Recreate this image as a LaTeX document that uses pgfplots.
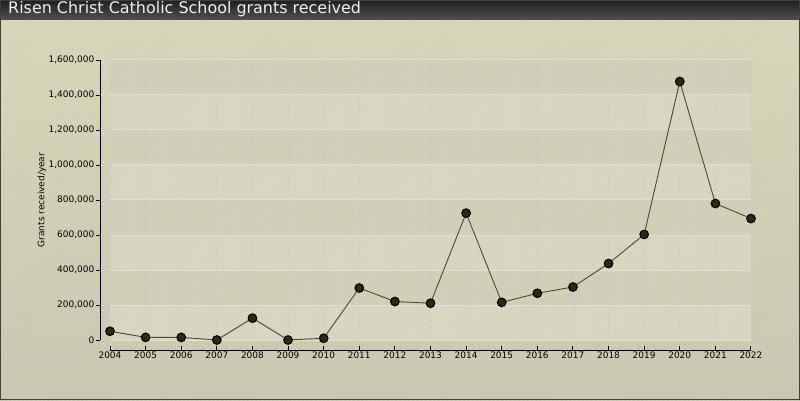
\documentclass[border=0pt]{standalone}
\usepackage{fontspec}
\setmainfont{DejaVu Sans}
\usepackage{pgfplots}
\pgfplotsset{compat=1.18}
\usetikzlibrary{patterns.meta}

\definecolor{bgtop}{HTML}{D4D4B4}
\definecolor{bgbot}{HTML}{C6C6AE}
\definecolor{banddark}{HTML}{D2D2BC}
\definecolor{bandlight}{HTML}{D9D9C4}
\definecolor{gridh}{HTML}{E0E0D2}
\definecolor{gridv}{HTML}{C9C9C0}
\definecolor{hatch}{HTML}{C4C49C}
\definecolor{linecol}{HTML}{4A4932}
\definecolor{markfill}{HTML}{2E2A12}

\begin{document}
\begin{tikzpicture}[x=1bp,y=1bp]
% page background and title bar
\shade[top color=bgtop, bottom color=bgbot] (0,0) rectangle (800,380);
\fill[pattern={Lines[angle=45,distance=3bp,line width=0.8bp]}, pattern color=white, opacity=0.18] (0,0) rectangle (800,380);
\shade[top color=black!88, bottom color=black!68] (0,380) rectangle (800,400);
\node[anchor=west, text=white!94!black, font=\fontsize{16}{16}\selectfont, inner sep=0pt] at (8,390.5) {Risen Christ Catholic School grants received};
\node[rotate=90, font=\fontsize{9}{9}\selectfont, text=black] at (42,200) {Grants received/year};

\begin{axis}[
  at={(110bp,60bp)}, anchor=south west,
  width=641bp, height=280bp, scale only axis,
  xmin=2004, xmax=2022, ymin=0, ymax=1600000,
  axis lines=left,
  axis x line shift=10bp,
  axis y line shift=10bp,
  axis line style={-, black, line width=0.9bp},
  axis background/.style={fill=banddark},
  xtick={2004,...,2022},
  ytick={0,200000,400000,600000,800000,1000000,1200000,1400000,1600000},
  scaled y ticks=false,
  xticklabel style={/pgf/number format/1000 sep={}, font=\fontsize{9}{9}\selectfont, inner sep=1.5bp},
  yticklabel style={/pgf/number format/fixed, /pgf/number format/1000 sep={,}, font=\fontsize{9}{9}\selectfont, inner sep=1.5bp},
  /pgf/number format/assume math mode=true,
  major tick length=4bp,
  xtick align=inside,
  ytick align=outside,
  tick style={black, line width=0.9bp},
  clip=false,
]
% alternating bands and grid
\fill[bandlight] (axis cs:2004,0) rectangle (axis cs:2022,200000);
\fill[bandlight] (axis cs:2004,400000) rectangle (axis cs:2022,600000);
\fill[bandlight] (axis cs:2004,800000) rectangle (axis cs:2022,1000000);
\fill[bandlight] (axis cs:2004,1200000) rectangle (axis cs:2022,1400000);
\fill[pattern={Lines[angle=45,distance=3bp,line width=0.8bp]}, pattern color=hatch, opacity=0.25] (axis cs:2004,0) rectangle (axis cs:2022,1600000);
\pgfplotsinvokeforeach{2004,...,2022}{
  \draw[gridv, dashed, line width=0.8bp] (axis cs:#1,0) -- (axis cs:#1,1600000);
}
\pgfplotsinvokeforeach{0,200000,400000,600000,800000,1000000,1200000,1400000,1600000}{
  \draw[gridh, line width=1bp] (axis cs:2004,#1) -- (axis cs:2022,#1);
}
\addplot[linecol, line width=0.9bp, mark=*, mark size=4.3bp,
  mark options={fill=markfill, draw=black, line width=1.1bp}]
coordinates {
(2004,50000) (2005,15000) (2006,15000) (2007,0) (2008,125000)
(2009,0) (2010,10000) (2011,297000) (2012,220000) (2013,210000)
(2014,725000) (2015,215000) (2016,267000) (2017,303000) (2018,437000)
(2019,603000) (2020,1477000) (2021,780000) (2022,694000)
};
\end{axis}
\draw[black!75, line width=1bp] (0.5,0.5) rectangle (799.5,399.5);
\end{tikzpicture}
\end{document}
